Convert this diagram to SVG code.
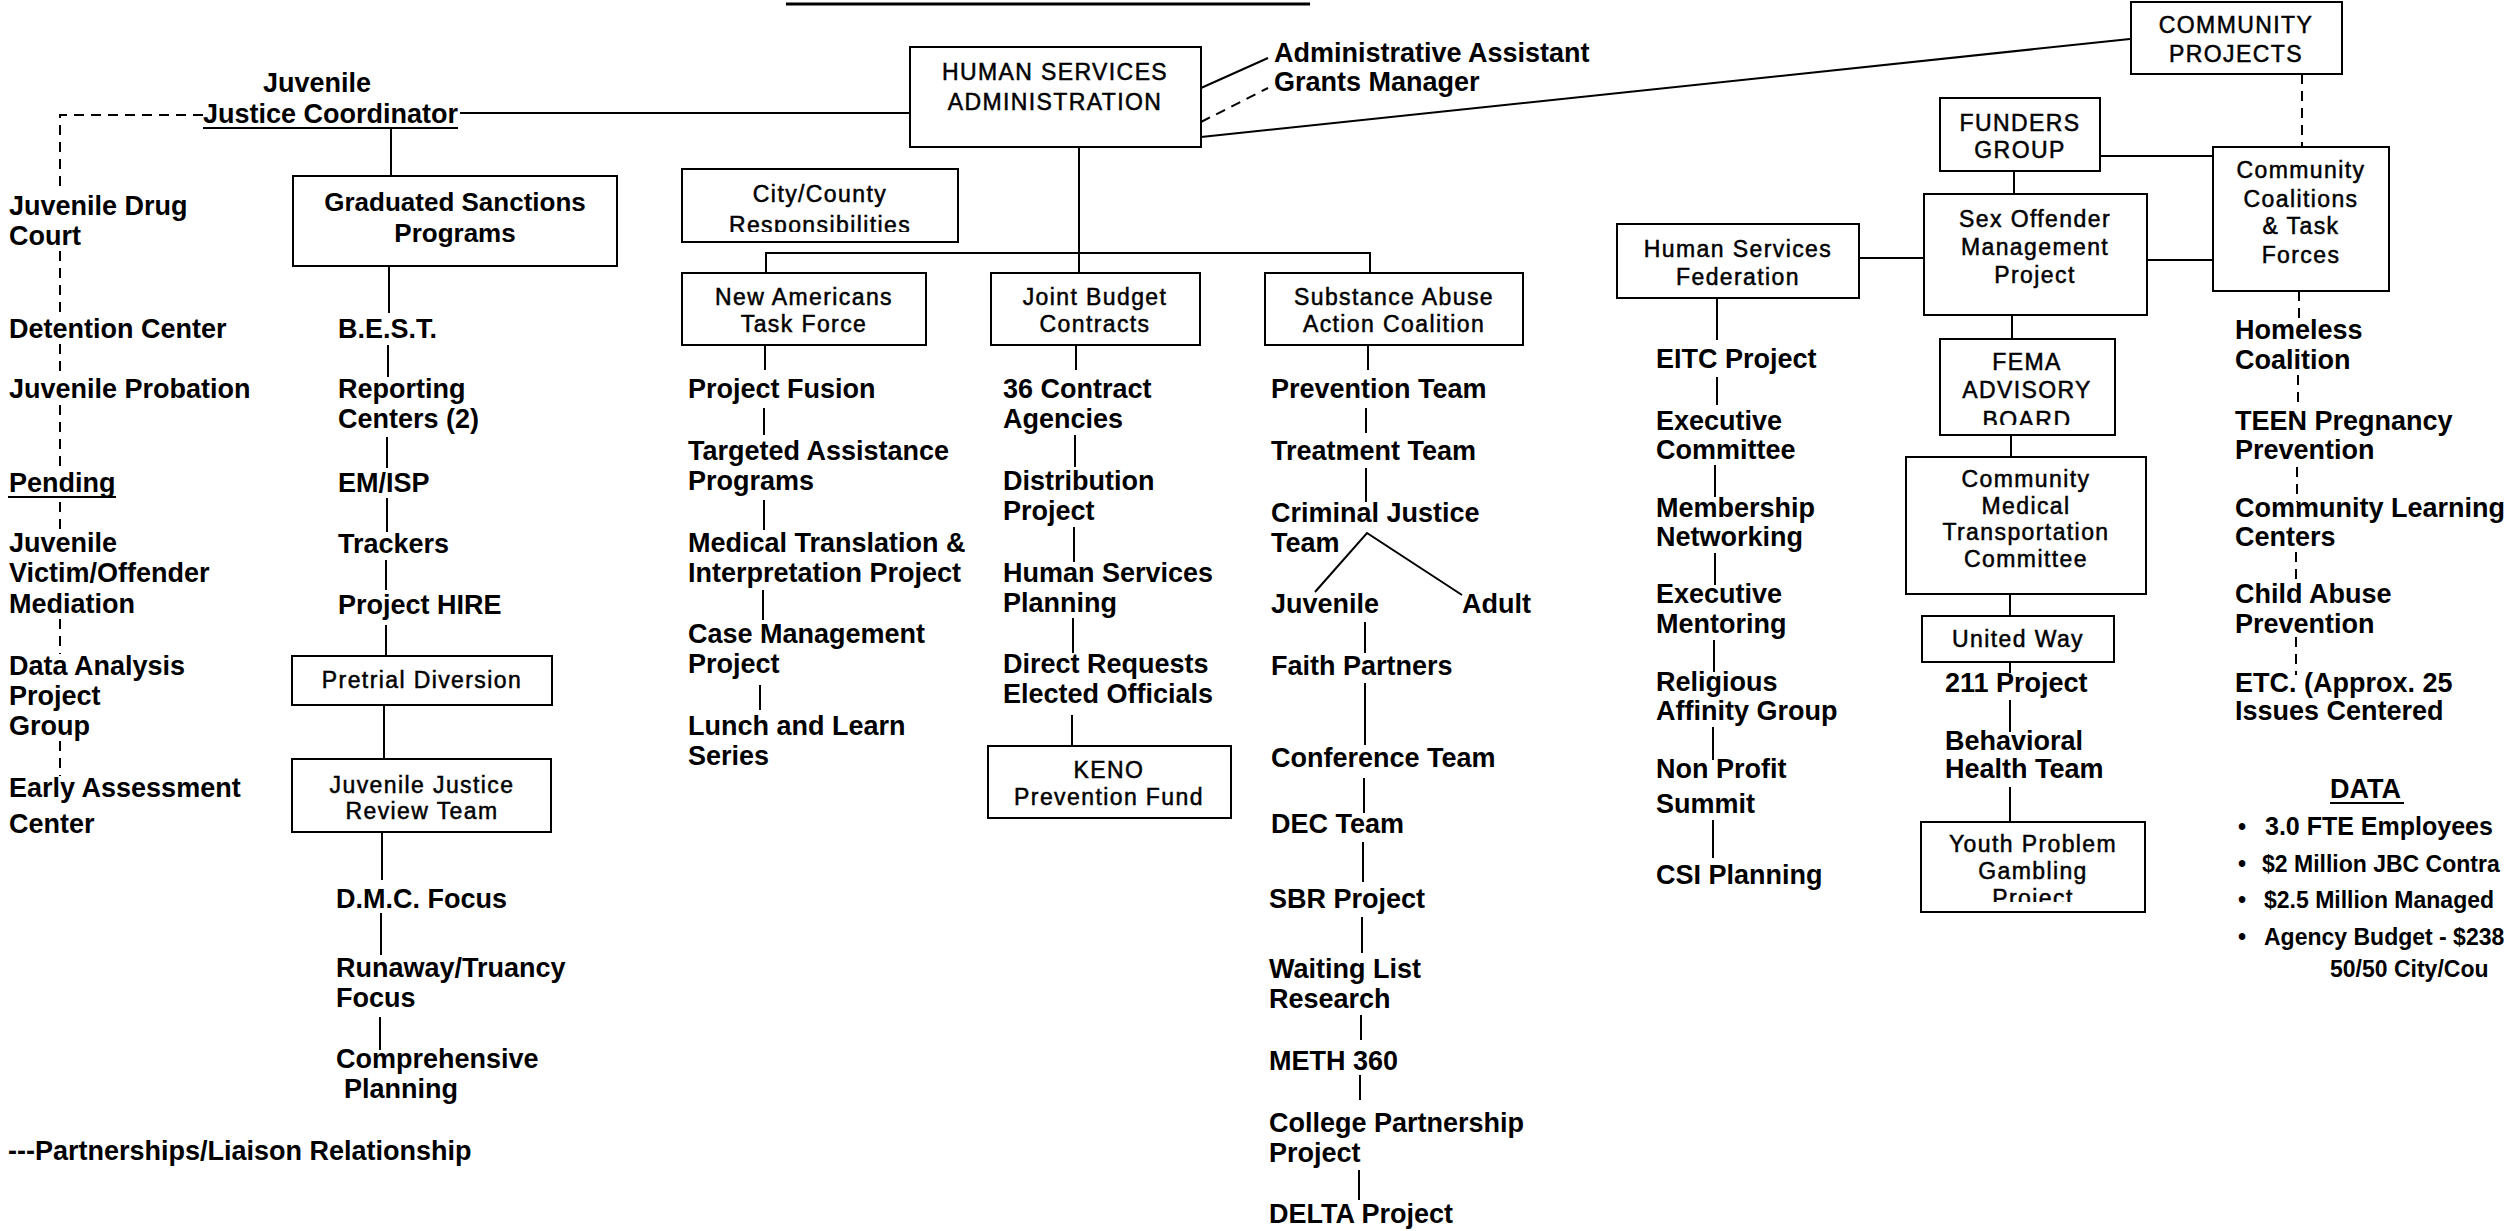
<svg xmlns="http://www.w3.org/2000/svg" width="2510" height="1231" viewBox="0 0 2510 1231">
<style>
.t{font-family:"Liberation Sans",Arial,sans-serif;font-weight:bold;font-size:27px;fill:#000}
.s{font-size:23px}
.m{font-size:25px}
.b{font-family:"Liberation Sans",Arial,sans-serif;font-size:23px;letter-spacing:1.4px;text-anchor:middle;fill:#000;stroke:#000;stroke-width:0.5}
.gb{font-family:"Liberation Sans",Arial,sans-serif;font-size:26px;font-weight:bold;text-anchor:middle;fill:#000}
.box{fill:#fff;stroke:#000;stroke-width:2}
.ln{stroke:#000;stroke-width:2;fill:none}
.dl{stroke-dasharray:10 7}
</style>
<defs>
<clipPath id="cCity"><rect x="682" y="169" width="276" height="63"/></clipPath>
<clipPath id="cFema"><rect x="1940" y="339" width="175" height="86"/></clipPath>
<clipPath id="cYouth"><rect x="1921" y="822" width="224" height="80"/></clipPath>
</defs>
<rect width="2510" height="1231" fill="#fff"/>
<line x1="786" y1="4" x2="1310" y2="4" stroke="#000" stroke-width="3"/>

<g id="connectors">
<path class="ln" d="M460 113H910"/>
<path class="ln dl" d="M203 115H60V193M60 251V317M60 344V377M60 405V471M60 502V531M60 619V654M60 741V776"/>
<path class="ln" d="M391 128V176M389 266V313M388 345V377M387 437V468M387 498V532M386 560V590M386 625V656M384 705V759M382 832V880M381 913V955M380 1017V1050"/>
<path class="ln" d="M1079 147V273M766 273V253H1370V273"/>
<path class="ln" d="M765 345V370M764 408V435M764 500V530M763 590V620M760 685V710"/>
<path class="ln" d="M1076 345V370M1075 435V467M1074 527V562M1073 618V653M1072 715V746"/>
<path class="ln" d="M1368 345V370M1366 408V433M1366 468V502M1315 592L1367 533L1462 595M1365 622V653M1365 683V745M1364 778V813M1363 842V882M1362 917V953M1361 1015V1040M1360 1075V1100M1359 1170V1200"/>
<path class="ln" d="M1201 88L1268 58"/>
<path class="ln dl" d="M1201 122L1268 88"/>
<path class="ln" stroke-width="3" d="M1201 137L2130 39"/>
<path class="ln dl" d="M2302 74V147"/>
<path class="ln" stroke-width="3" d="M2100 156H2212"/>
<path class="ln" d="M2014 171V194M2012 315V339M2011 435V457M2010 594V616M2010 662V673M2010 700V732M2010 787V822"/>
<path class="ln" stroke-width="3" d="M1859 258H1924M2147 260H2213"/>
<path class="ln" d="M1717 298V340M1717 377V405M1715 465V497M1715 553V585M1714 640V672M1713 727V760M1713 820V858"/>
<path class="ln dl" d="M2299 291V318M2298 375V408M2297 467V502M2296 552V585M2296 637V675"/>
</g>

<g id="hsa"><rect class="box" x="910" y="47" width="291" height="100"/><text class="b" x="1055" y="80">HUMAN SERVICES</text><text class="b" x="1055" y="110">ADMINISTRATION</text></g>
<g id="admin-assistant"><text class="t" x="1274" y="62">Administrative Assistant</text></g>
<g id="grants-manager"><text class="t" x="1274" y="91">Grants Manager</text></g>

<g id="jjc"><text class="t" x="263" y="92">Juvenile</text><text class="t" x="203" y="123">Justice Coordinator</text><line x1="203" y1="128" x2="458" y2="128" stroke="#000" stroke-width="2"/></g>

<g id="left-col">
<g id="drug-court"><text class="t" x="9" y="215">Juvenile Drug</text><text class="t" x="9" y="245">Court</text></g>
<g id="detention"><text class="t" x="9" y="338">Detention Center</text></g>
<g id="probation"><text class="t" x="9" y="398">Juvenile Probation</text></g>
<g id="pending"><text class="t" x="9" y="492">Pending</text><line x1="8" y1="497" x2="116" y2="497" stroke="#000" stroke-width="2"/></g>
<g id="mediation"><text class="t" x="9" y="552">Juvenile</text><text class="t" x="9" y="582">Victim/Offender</text><text class="t" x="9" y="613">Mediation</text></g>
<g id="data-analysis"><text class="t" x="9" y="675">Data Analysis</text><text class="t" x="9" y="705">Project</text><text class="t" x="9" y="735">Group</text></g>
<g id="early-assessment"><text class="t" x="9" y="797">Early Assessment</text><text class="t" x="9" y="833">Center</text></g>
</g>

<g id="graduated"><rect class="box" x="293" y="176" width="324" height="90"/><text class="gb" x="455" y="211">Graduated Sanctions</text><text class="gb" x="455" y="242">Programs</text></g>
<g id="best"><text class="t" x="338" y="338">B.E.S.T.</text></g>
<g id="reporting"><text class="t" x="338" y="398">Reporting</text><text class="t" x="338" y="428">Centers (2)</text></g>
<g id="emisp"><text class="t" x="338" y="492">EM/ISP</text></g>
<g id="trackers"><text class="t" x="338" y="553">Trackers</text></g>
<g id="hire"><text class="t" x="338" y="614">Project HIRE</text></g>
<g id="pretrial"><rect class="box" x="292" y="656" width="260" height="49"/><text class="b" x="422" y="688">Pretrial Diversion</text></g>
<g id="jjrt"><rect class="box" x="292" y="759" width="259" height="73"/><text class="b" x="422" y="793">Juvenile Justice</text><text class="b" x="422" y="819">Review Team</text></g>
<g id="dmc"><text class="t" x="336" y="908">D.M.C. Focus</text></g>
<g id="runaway"><text class="t" x="336" y="977">Runaway/Truancy</text><text class="t" x="336" y="1007">Focus</text></g>
<g id="comprehensive"><text class="t" x="336" y="1068">Comprehensive</text><text class="t" x="344" y="1098">Planning</text></g>
<g id="legend"><text class="t" x="8" y="1160">---Partnerships/Liaison Relationship</text></g>

<g id="city-county"><rect class="box" x="682" y="169" width="276" height="73"/><g clip-path="url(#cCity)"><text class="b" x="820" y="202">City/County</text><text class="b" x="820" y="233">Responsibilities</text></g></g>

<g id="new-americans"><rect class="box" x="682" y="273" width="244" height="72"/><text class="b" x="804" y="305">New Americans</text><text class="b" x="804" y="332">Task Force</text></g>
<g id="fusion"><text class="t" x="688" y="398">Project Fusion</text></g>
<g id="targeted"><text class="t" x="688" y="460">Targeted Assistance</text><text class="t" x="688" y="490">Programs</text></g>
<g id="medical"><text class="t" x="688" y="552">Medical Translation &amp;</text><text class="t" x="688" y="582">Interpretation Project</text></g>
<g id="case-mgmt"><text class="t" x="688" y="643">Case Management</text><text class="t" x="688" y="673">Project</text></g>
<g id="lunch"><text class="t" x="688" y="735">Lunch and Learn</text><text class="t" x="688" y="765">Series</text></g>

<g id="joint-budget"><rect class="box" x="991" y="273" width="209" height="72"/><text class="b" x="1095" y="305">Joint Budget</text><text class="b" x="1095" y="332">Contracts</text></g>
<g id="contract-agencies"><text class="t" x="1003" y="398">36 Contract</text><text class="t" x="1003" y="428">Agencies</text></g>
<g id="distribution"><text class="t" x="1003" y="490">Distribution</text><text class="t" x="1003" y="520">Project</text></g>
<g id="hs-planning"><text class="t" x="1003" y="582">Human Services</text><text class="t" x="1003" y="612">Planning</text></g>
<g id="direct-requests"><text class="t" x="1003" y="673">Direct Requests</text><text class="t" x="1003" y="703">Elected Officials</text></g>
<g id="keno"><rect class="box" x="988" y="746" width="243" height="72"/><text class="b" x="1109" y="778">KENO</text><text class="b" x="1109" y="805">Prevention Fund</text></g>

<g id="saac"><rect class="box" x="1265" y="273" width="258" height="72"/><text class="b" x="1394" y="305">Substance Abuse</text><text class="b" x="1394" y="332">Action Coalition</text></g>
<g id="prevention-team"><text class="t" x="1271" y="398">Prevention Team</text></g>
<g id="treatment-team"><text class="t" x="1271" y="460">Treatment Team</text></g>
<g id="cj-team"><text class="t" x="1271" y="522">Criminal Justice</text><text class="t" x="1271" y="552">Team</text></g>
<g id="juvenile"><text class="t" x="1271" y="613">Juvenile</text></g>
<g id="adult"><text class="t" x="1462" y="613">Adult</text></g>
<g id="faith"><text class="t" x="1271" y="675">Faith Partners</text></g>
<g id="conference"><text class="t" x="1271" y="767">Conference Team</text></g>
<g id="dec"><text class="t" x="1271" y="833">DEC Team</text></g>
<g id="sbr"><text class="t" x="1269" y="908">SBR Project</text></g>
<g id="waiting"><text class="t" x="1269" y="978">Waiting List</text><text class="t" x="1269" y="1008">Research</text></g>
<g id="meth"><text class="t" x="1269" y="1070">METH 360</text></g>
<g id="college"><text class="t" x="1269" y="1132">College Partnership</text><text class="t" x="1269" y="1162">Project</text></g>
<g id="delta"><text class="t" x="1269" y="1223">DELTA Project</text></g>

<g id="community-projects"><rect class="box" x="2131" y="2" width="211" height="72"/><text class="b" x="2236" y="33">COMMUNITY</text><text class="b" x="2236" y="62">PROJECTS</text></g>
<g id="funders"><rect class="box" x="1940" y="98" width="160" height="73"/><text class="b" x="2020" y="131">FUNDERS</text><text class="b" x="2020" y="158">GROUP</text></g>
<g id="coalitions"><rect class="box" x="2213" y="147" width="176" height="144"/><text class="b" x="2301" y="178">Community</text><text class="b" x="2301" y="207">Coalitions</text><text class="b" x="2301" y="234">&amp; Task</text><text class="b" x="2301" y="263">Forces</text></g>
<g id="somp"><rect class="box" x="1924" y="194" width="223" height="121"/><text class="b" x="2035" y="227">Sex Offender</text><text class="b" x="2035" y="255">Management</text><text class="b" x="2035" y="283">Project</text></g>
<g id="hsf"><rect class="box" x="1617" y="224" width="242" height="74"/><text class="b" x="1738" y="257">Human Services</text><text class="b" x="1738" y="285">Federation</text></g>
<g id="fema"><rect class="box" x="1940" y="339" width="175" height="96"/><g clip-path="url(#cFema)"><text class="b" x="2027" y="370">FEMA</text><text class="b" x="2027" y="398">ADVISORY</text><text class="b" x="2027" y="428">BOARD</text></g></g>
<g id="cmtc"><rect class="box" x="1906" y="457" width="240" height="137"/><text class="b" x="2026" y="487">Community</text><text class="b" x="2026" y="514">Medical</text><text class="b" x="2026" y="540">Transportation</text><text class="b" x="2026" y="567">Committee</text></g>
<g id="united-way"><rect class="box" x="1922" y="616" width="192" height="46"/><text class="b" x="2018" y="647">United Way</text></g>
<g id="p211"><text class="t" x="1945" y="692">211 Project</text></g>
<g id="behavioral"><text class="t" x="1945" y="750">Behavioral</text><text class="t" x="1945" y="778">Health Team</text></g>
<g id="youth"><rect class="box" x="1921" y="822" width="224" height="90"/><g clip-path="url(#cYouth)"><text class="b" x="2033" y="852">Youth Problem</text><text class="b" x="2033" y="879">Gambling</text><text class="b" x="2033" y="906">Project</text></g></g>

<g id="eitc"><text class="t" x="1656" y="368">EITC Project</text></g>
<g id="exec-committee"><text class="t" x="1656" y="430">Executive</text><text class="t" x="1656" y="459">Committee</text></g>
<g id="membership"><text class="t" x="1656" y="517">Membership</text><text class="t" x="1656" y="546">Networking</text></g>
<g id="exec-mentoring"><text class="t" x="1656" y="603">Executive</text><text class="t" x="1656" y="633">Mentoring</text></g>
<g id="religious"><text class="t" x="1656" y="691">Religious</text><text class="t" x="1656" y="720">Affinity Group</text></g>
<g id="nonprofit"><text class="t" x="1656" y="778">Non Profit</text><text class="t" x="1656" y="813">Summit</text></g>
<g id="csi"><text class="t" x="1656" y="884">CSI Planning</text></g>

<g id="homeless"><text class="t" x="2235" y="339">Homeless</text><text class="t" x="2235" y="369">Coalition</text></g>
<g id="teen"><text class="t" x="2235" y="430">TEEN Pregnancy</text><text class="t" x="2235" y="459">Prevention</text></g>
<g id="learning"><text class="t" x="2235" y="517">Community Learning</text><text class="t" x="2235" y="546">Centers</text></g>
<g id="child-abuse"><text class="t" x="2235" y="603">Child Abuse</text><text class="t" x="2235" y="633">Prevention</text></g>
<g id="etc"><text class="t" x="2235" y="692">ETC. (Approx. 25</text><text class="t" x="2235" y="720">Issues Centered</text></g>

<g id="data">
<text class="t" x="2330" y="798">DATA</text><line x1="2330" y1="803" x2="2404" y2="803" stroke="#000" stroke-width="2"/>
<text class="t s" x="2238" y="835">•</text><text class="t m" x="2265" y="835">3.0 FTE Employees</text>
<text class="t s" x="2238" y="872">•</text><text class="t s" x="2262" y="872">$2 Million JBC Contra</text>
<text class="t s" x="2238" y="908">•</text><text class="t s" x="2264" y="908">$2.5 Million Managed</text>
<text class="t s" x="2238" y="945">•</text><text class="t s" x="2264" y="945">Agency Budget - $238</text>
<text class="t s" x="2330" y="977">50/50 City/Cou</text>
</g>
</svg>
